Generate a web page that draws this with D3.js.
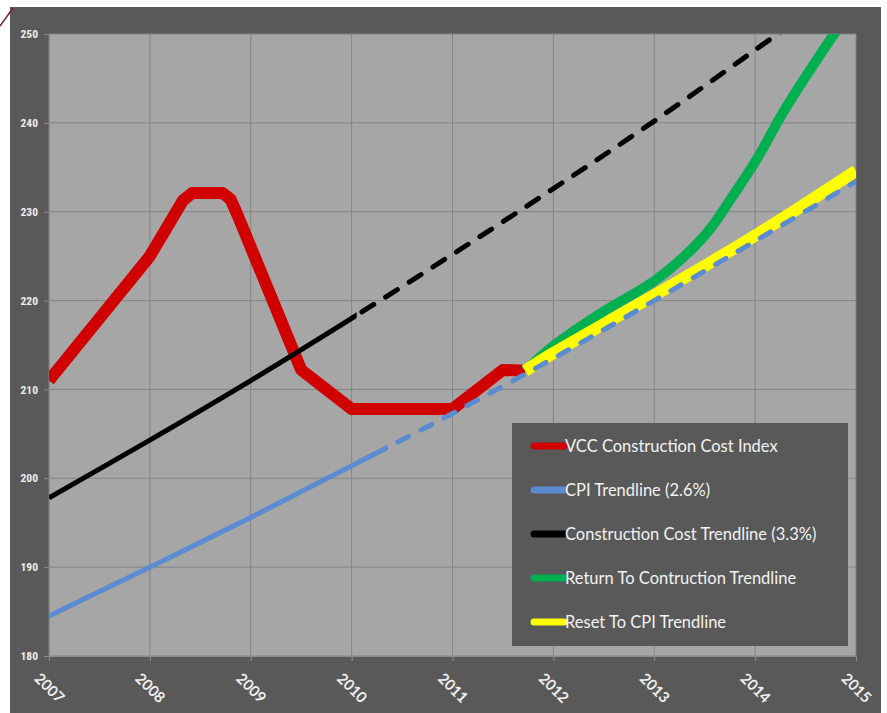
<!DOCTYPE html>
<html>
<head>
<meta charset="utf-8">
<script src="https://cdn.jsdelivr.net/npm/d3@7"></script>
<style>
  body { margin: 0; background: #ffffff; }
  svg { display: block; }
</style>
</head>
<body>
<div id="chart"></div>
<script>
// VCC construction cost chart

const yearTicks = [2007, 2008, 2009, 2010, 2011, 2012, 2013, 2014, 2015];
const valueTicks = [180, 190, 200, 210, 220, 230, 240, 250];

// VCC Construction Cost Index (red)
const vccYears  = [2007, 2008, 2008.33, 2008.42, 2008.72, 2008.8, 2008.87, 2009.5, 2010, 2011, 2011.5, 2011.72];
const vccValues = [211, 225, 231.3, 232.1, 232.1, 231.4, 229.6, 212.2, 207.8, 207.8, 212.2, 212.1];

// CPI trendline (blue), solid until cpiDashFrom
const cpiYears  = [2007, 2008, 2009, 2010, 2011, 2012, 2013, 2014, 2015];
const cpiValues = [184.5, 190.0, 195.6, 201.4, 207.3, 213.5, 220.0, 226.7, 233.4];
const cpiDashFrom = 2010.35;

// Construction cost trendline (black), solid until costDashFrom
const costYears  = [2007, 2008, 2009, 2010, 2011, 2012, 2013, 2014, 2015];
const costValues = [197.8, 204.3, 211.0, 218.0, 225.2, 232.6, 240.2, 248.2, 256.3];
const costDashFrom = 2010.05;

// Return to construction trendline (green)
const greenYears  = [2011.72, 2012, 2012.46, 2013, 2013.3, 2013.55, 2013.78, 2014, 2014.31, 2014.8];
const greenValues = [212.1, 214.9, 218.5, 222.2, 225.0, 228.0, 231.8, 235.6, 241.8, 250.3];

// Reset to CPI trendline (yellow)
const yellowYears  = [2011.72, 2012, 2013, 2014, 2015];
const yellowValues = [212.1, 214.1, 220.6, 227.3, 234.6];

const legendItems = [
    { label: 'VCC Construction Cost Index', color: '#d00000' },
    { label: 'CPI Trendline (2.6%)', color: '#5b8bd0' },
    { label: 'Construction Cost Trendline (3.3%)', color: '#000000' },
    { label: 'Return To Contruction Trendline', color: '#00b050' },
    { label: 'Reset To CPI Trendline', color: '#ffff00' }
];

const width = 887, height = 713;
const plot = { left: 49, right: 856, top: 34, bottom: 656 };
const labelFont = '"Liberation Sans Narrow", "Roboto Condensed", "DejaVu Sans Condensed", sans-serif';
const legendFont = 'Lato, "Open Sans", sans-serif';

const svg = d3.select('#chart').append('svg')
    .attr('width', width)
    .attr('height', height);

// Dark panel
svg.append('rect')
    .attr('x', 10).attr('y', 7)
    .attr('width', 871).attr('height', height - 7)
    .attr('fill', '#595959');

// Little stray line at the top-left corner
svg.append('line')
    .attr('x1', 0).attr('y1', 26)
    .attr('x2', 13).attr('y2', 8)
    .attr('stroke', '#7a1e2c')
    .attr('stroke-width', 1.5);

const x = d3.scaleLinear().domain([2007, 2015]).range([plot.left, plot.right]);
const y = d3.scaleLinear().domain([180, 250]).range([plot.bottom, plot.top]);

// Plot area
svg.append('rect')
    .attr('x', plot.left).attr('y', plot.top)
    .attr('width', plot.right - plot.left).attr('height', plot.bottom - plot.top)
    .attr('fill', '#a6a6a6');

// Gridlines
svg.append('g').selectAll('line.hgrid')
    .data(valueTicks)
    .enter().append('line')
    .attr('x1', plot.left).attr('x2', plot.right)
    .attr('y1', d => y(d)).attr('y2', d => y(d))
    .attr('stroke', '#858585').attr('stroke-width', 1);

svg.append('g').selectAll('line.vgrid')
    .data(yearTicks)
    .enter().append('line')
    .attr('x1', d => x(d)).attr('x2', d => x(d))
    .attr('y1', plot.top).attr('y2', plot.bottom)
    .attr('stroke', '#858585').attr('stroke-width', 1);

// Axes
const yAxis = svg.append('g')
    .attr('transform', `translate(${plot.left},0)`)
    .call(d3.axisLeft(y).tickValues(valueTicks).tickSize(5).tickPadding(6));
yAxis.select('.domain').attr('stroke', '#8c8c8c');
yAxis.selectAll('line').attr('stroke', '#8c8c8c');
yAxis.selectAll('text')
    .attr('fill', '#eeeeee')
    .style('font-family', labelFont)
    .style('font-size', '11.5px')
    .style('font-weight', 'bold');

const xAxis = svg.append('g')
    .attr('transform', `translate(0,${plot.bottom})`)
    .call(d3.axisBottom(x).tickValues(yearTicks).tickFormat(d3.format('d')).tickSize(5));
xAxis.select('.domain').attr('stroke', '#8c8c8c');
xAxis.selectAll('line').attr('stroke', '#8c8c8c');
xAxis.selectAll('text')
    .attr('fill', '#eeeeee')
    .style('font-family', legendFont)
    .style('font-size', '15px')
    .style('font-weight', 'bold')
    .attr('text-anchor', 'middle')
    .attr('dy', '0.35em')
    .attr('y', 0)
    .attr('transform', 'translate(0,32) rotate(45)');

// Clip paths
const defs = svg.append('defs');
defs.append('clipPath').attr('id', 'plot-clip')
    .append('rect')
    .attr('x', plot.left).attr('y', plot.top)
    .attr('width', plot.right - plot.left).attr('height', plot.bottom - plot.top);

function splitClip(id, fromYear, before) {
    const cx = x(fromYear);
    defs.append('clipPath').attr('id', id)
        .append('rect')
        .attr('x', before ? plot.left : cx)
        .attr('y', plot.top)
        .attr('width', before ? cx - plot.left : plot.right - cx)
        .attr('height', plot.bottom - plot.top);
}
splitClip('cpi-solid', cpiDashFrom, true);
splitClip('cpi-dash', cpiDashFrom, false);
splitClip('cost-solid', costDashFrom, true);
splitClip('cost-dash', costDashFrom, false);

const linearLine = d3.line()
    .x(d => x(d[0]))
    .y(d => y(d[1]));

const smoothLine = d3.line()
    .x(d => x(d[0]))
    .y(d => y(d[1]))
    .curve(d3.curveCatmullRom.alpha(0.5));

const zip = (xs, ys) => xs.map((v, i) => [v, ys[i]]);

const series = svg.append('g').attr('clip-path', 'url(#plot-clip)');

function drawLine(data, gen, color, w, opts = {}) {
    const p = series.append('path')
        .datum(data)
        .attr('d', gen)
        .attr('fill', 'none')
        .attr('stroke', color)
        .attr('stroke-width', w)
        .attr('stroke-linejoin', 'round')
        .attr('stroke-linecap', opts.cap || 'butt');
    if (opts.dash) p.attr('stroke-dasharray', opts.dash);
    if (opts.clip) p.attr('clip-path', `url(#${opts.clip})`);
    return p;
}

drawLine(zip(vccYears, vccValues), linearLine, '#d00000', 12);
drawLine(zip(greenYears, greenValues), smoothLine, '#00b050', 10);
drawLine(zip(yellowYears, yellowValues), smoothLine, '#ffff00', 12);
drawLine(zip(costYears, costValues), smoothLine, '#000000', 5, { clip: 'cost-solid' });
drawLine(zip(costYears, costValues), smoothLine, '#000000', 5, { clip: 'cost-dash', dash: '14 14', cap: 'round' });
drawLine(zip(cpiYears, cpiValues), smoothLine, '#5b8bd0', 5, { clip: 'cpi-solid' });
drawLine(zip(cpiYears, cpiValues), smoothLine, '#5b8bd0', 5, { clip: 'cpi-dash', dash: '12 14', cap: 'round' });

// Legend
const legend = svg.append('g').attr('transform', 'translate(512,423)');
legend.append('rect')
    .attr('width', 336).attr('height', 223)
    .attr('fill', '#595959');

const items = legend.selectAll('g.item')
    .data(legendItems)
    .enter().append('g')
    .attr('transform', (d, i) => `translate(22,${23 + i * 44})`);

items.append('line')
    .attr('x1', 0).attr('x2', 30)
    .attr('stroke', d => d.color)
    .attr('stroke-width', 7)
    .attr('stroke-linecap', 'round');

items.append('text')
    .attr('x', 31)
    .attr('dy', '0.35em')
    .attr('fill', '#f2f2f2')
    .style('font-family', legendFont)
    .style('font-size', '16.5px')
    .text(d => d.label);
</script>
</body>
</html>
